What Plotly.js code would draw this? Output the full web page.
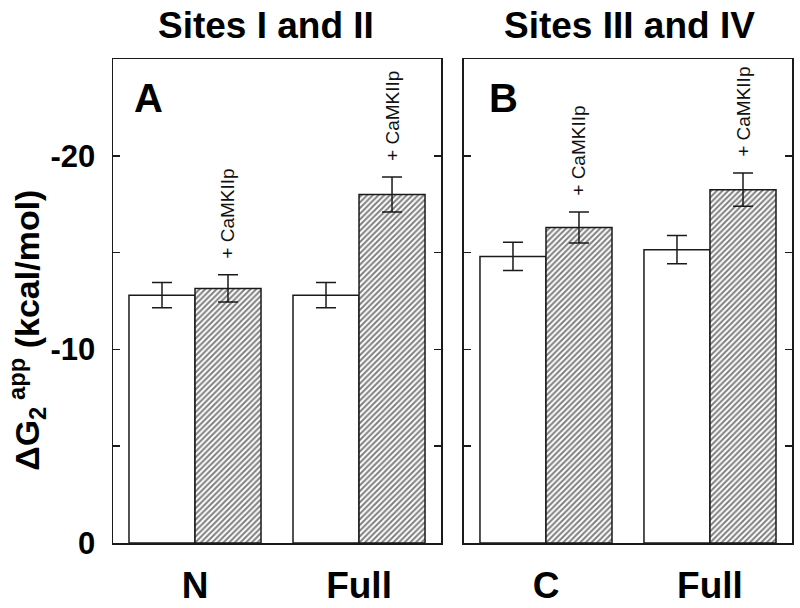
<!DOCTYPE html>
<html>
<head>
<meta charset="utf-8">
<script src="https://cdn.plot.ly/plotly-3.0.1.min.js"></script>
<style>
  html, body { margin: 0; padding: 0; background: #fff; }
  #chart { width: 800px; height: 608px; }
</style>
</head>
<body>
<div id="chart"></div>
<script>
// Panel A: sites I and II
const labelsA = ['N', 'Full'];
const apoA = [-12.8, -12.8];
const apoErrA = [0.65, 0.65];
const pepA = [-13.15, -18.0];
const pepErrA = [0.7, 0.9];

// Panel B: sites III and IV
const labelsB = ['C', 'Full'];
const apoB = [-14.8, -15.15];
const apoErrB = [0.73, 0.73];
const pepB = [-16.3, -18.25];
const pepErrB = [0.8, 0.86];

// y ticks (plain hyphen, as in the figure)
const yTickVals = [0, -10, -20];
const yTickText = ['0', '-10', '-20'];

const peptideLabel = '+ CaMKIIp';
const panelTitles = ['Sites I and II', 'Sites III and IV'];
const panelLetters = ['A', 'B'];

const FONT = 'Liberation Sans, Arial, Helvetica, sans-serif';
const INK = '#1a1a1a';

function barPair(vals, errs, hatched, xa, ya) {
  return {
    type: 'bar',
    x: vals.map((v, i) => i),
    y: vals,
    xaxis: xa,
    yaxis: ya,
    marker: {
      color: '#fff',
      line: { color: INK, width: 1.5 },
      pattern: hatched
        ? { shape: '/', size: 4, solidity: 0.5, fgcolor: '#000', bgcolor: '#fff', fillmode: 'overlay' }
        : { shape: '' }
    },
    error_y: { type: 'data', array: errs, visible: true, color: INK, thickness: 1.5, width: 10 },
    showlegend: false,
    hoverinfo: 'skip'
  };
}

const traces = [
  barPair(apoA, apoErrA, false, 'x', 'y'),
  barPair(pepA, pepErrA, true, 'x', 'y'),
  barPair(apoB, apoErrB, false, 'x2', 'y2'),
  barPair(pepB, pepErrB, true, 'x2', 'y2')
];

function xAxis(domain, labels, anchor) {
  return {
    domain,
    anchor,
    range: [-0.5, 1.5],
    tickmode: 'array',
    tickvals: labels.map((l, i) => i),
    ticktext: labels,
    ticks: '',
    showline: true,
    mirror: true,
    linecolor: INK,
    linewidth: 1.5,
    showgrid: false,
    zeroline: false,
    ticklabelstandoff: 9,
    tickfont: { family: FONT, size: 37, color: '#000', weight: 'bold' }
  };
}

function yAxis(anchor, showLabels) {
  return {
    anchor,
    range: [0, -25],
    tickmode: 'array',
    tickvals: yTickVals,
    ticktext: yTickText,
    ticks: 'inside',
    ticklen: 7,
    tickwidth: 1.5,
    tickcolor: INK,
    minor: { tickmode: 'linear', tick0: 0, dtick: 5, ticks: 'inside', ticklen: 7, tickwidth: 1.5, tickcolor: INK },
    showticklabels: showLabels,
    showline: true,
    mirror: 'ticks',
    linecolor: INK,
    linewidth: 1.5,
    showgrid: false,
    zeroline: false,
    ticklabelstandoff: 10,
    tickfont: { family: FONT, size: 31, color: '#000', weight: 'bold' }
  };
}

const annotations = [];

// "+ CaMKIIp" labels above the hatched bars
[[pepA, pepErrA, 'x', 'y'], [pepB, pepErrB, 'x2', 'y2']].forEach(([vals, errs, xr, yr]) => {
  vals.forEach((v, i) => {
    annotations.push({
      text: peptideLabel,
      x: i + 0.2,
      y: v - errs[i],
      xref: xr,
      yref: yr,
      textangle: -90,
      xanchor: 'center',
      yanchor: 'bottom',
      yshift: 14,
      showarrow: false,
      font: { family: FONT, size: 19, color: '#111' }
    });
  });
});

// panel titles and letters
const titleX = [0.225, 0.76];
const letterX = [0.053, 0.5744];
panelTitles.forEach((t, k) => {
  annotations.push({
    text: t, xref: 'paper', yref: 'paper', x: titleX[k], y: 1.07,
    xanchor: 'center', yanchor: 'middle', showarrow: false,
    font: { family: FONT, size: 37, color: '#000', weight: 'bold' }
  });
  annotations.push({
    text: panelLetters[k], xref: 'paper', yref: 'paper', x: letterX[k], y: 0.92,
    xanchor: 'center', yanchor: 'middle', showarrow: false,
    font: { family: FONT, size: 40, color: '#000', weight: 'bold' }
  });
});

// y axis title
annotations.push({
  text: '\u0394G<sub>2</sub><sup> app</sup> (kcal/mol)',
  xref: 'paper', yref: 'paper', x: -0.127, y: 0.44,
  textangle: -90, xanchor: 'center', yanchor: 'middle', showarrow: false,
  font: { family: FONT, size: 34, color: '#000', weight: 'bold' }
});

const layout = {
  width: 800,
  height: 608,
  margin: { l: 113, r: 8, t: 59, b: 65 },
  paper_bgcolor: '#fff',
  plot_bgcolor: '#fff',
  barmode: 'group',
  bargap: 0.195,
  bargroupgap: 0,
  xaxis: xAxis([0, 0.4831], labelsA, 'y'),
  yaxis: yAxis('x', true),
  xaxis2: xAxis([0.5169, 1], labelsB, 'y2'),
  yaxis2: yAxis('x2', false),
  annotations
};

Plotly.newPlot('chart', traces, layout, { staticPlot: true });
</script>
</body>
</html>
